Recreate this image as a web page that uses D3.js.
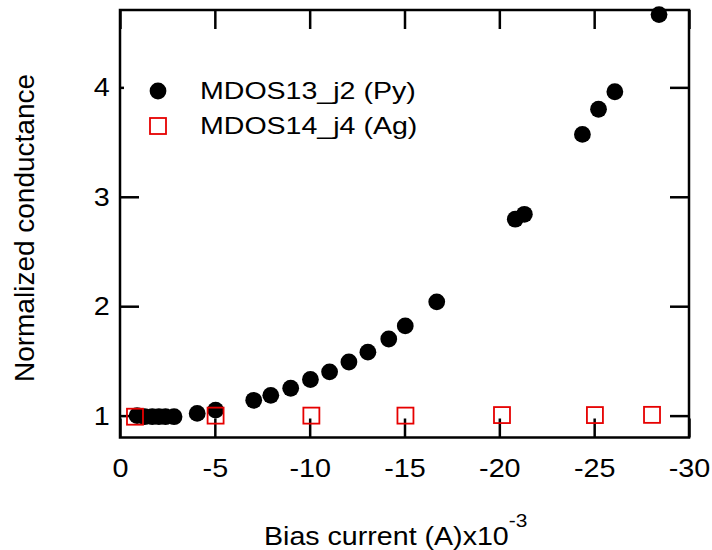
<!DOCTYPE html>
<html>
<head>
<meta charset="utf-8">
<script src="https://cdn.jsdelivr.net/npm/d3@7"></script>
<style>
  html, body { margin: 0; padding: 0; background: #fff; }
  svg { display: block; }
  text { font-family: "Liberation Sans", Arial, Helvetica, sans-serif; fill: #000; }
</style>
</head>
<body>
<svg id="chart" width="712" height="550"></svg>
<script>
// ---- Data ----
const pyX = [-0.9, -1.3, -1.7, -2.05, -2.4, -2.85, -4.07, -5.04, -7.05, -7.95, -9.0, -10.04,
             -11.05, -12.07, -13.07, -14.17, -15.04, -16.7, -20.84, -21.32, -24.38, -25.23, -26.09, -28.42];
const pyY = [1.0, 0.99, 0.99, 0.99, 0.99, 0.99, 1.02, 1.05, 1.14, 1.185, 1.25, 1.33,
             1.40, 1.49, 1.58, 1.70, 1.82, 2.04, 2.795, 2.84, 3.57, 3.80, 3.96, 4.665];
const agX = [-0.79, -5.04, -10.09, -15.05, -20.14, -25.04, -28.05];
const agY = [0.99, 1.0, 1.0, 1.0, 1.005, 1.005, 1.007];
const xTicks = [0, -5, -10, -15, -20, -25, -30];
const yTicks = [1, 2, 3, 4];
const seriesNames = ["MDOS13_j2 (Py)", "MDOS14_j4 (Ag)"];
const xTitle = "Bias current (A)x10";
const xTitleSup = "-3";
const yTitle = "Normalized conductance";

// ---- Layout ----
const L = 120, R = 689, T = 10, B = 437.5;
const TICK = 19;
const SX = 1.15;           // horizontal text stretch seen in the reference
const RED = "#e60000";

const svg = d3.select("#chart");
const x = d3.scaleLinear().domain([0, -30]).range([L, R]);
const y = d3.scaleLinear().domain([0.8, 4.707]).range([B, T]);

function styleAxis(g) {
  g.select(".domain").remove();
  g.selectAll(".tick line").attr("stroke", "#000").attr("stroke-width", 2.5);
}

// bottom axis with labels
const gx = svg.append("g").attr("transform", `translate(0,${B})`)
  .call(d3.axisBottom(x).tickValues(xTicks).tickSize(-TICK).tickPadding(22)
        .tickFormat(d => d === 0 ? "0" : "-" + Math.abs(d)));
styleAxis(gx);
gx.selectAll(".tick text").attr("font-size", 25).attr("font-family", null)
  .attr("transform", `scale(${SX},1)`);

// top axis no labels
const gt = svg.append("g").attr("transform", `translate(0,${T})`)
  .call(d3.axisTop(x).tickValues(xTicks).tickSize(-TICK).tickFormat(""));
styleAxis(gt);

// left axis with labels
const gy = svg.append("g").attr("transform", `translate(${L},0)`)
  .call(d3.axisLeft(y).tickValues(yTicks).tickSize(-TICK).tickPadding(9).tickFormat(d3.format("d")));
styleAxis(gy);
gy.selectAll(".tick text").attr("font-size", 25).attr("font-family", null)
  .attr("dy", "0.34em").attr("transform", `scale(${SX},1)`);

// right axis no labels
const gr = svg.append("g").attr("transform", `translate(${R},0)`)
  .call(d3.axisRight(y).tickValues(yTicks).tickSize(-TICK).tickFormat(""));
styleAxis(gr);

// frame
svg.append("rect").attr("x", L).attr("y", T).attr("width", R - L).attr("height", B - T)
  .attr("fill", "none").attr("stroke", "#000").attr("stroke-width", 2.5);

// legend background
svg.append("rect").attr("x", 124).attr("y", 62).attr("width", 300).attr("height", 84).attr("fill", "#fff");

// Py circles
svg.append("g").selectAll("circle").data(pyX).join("circle")
  .attr("cx", d => x(d)).attr("cy", (d, i) => y(pyY[i])).attr("r", 8.4).attr("fill", "#000");

// Ag squares
const S = 16;
svg.append("g").selectAll("rect").data(agX).join("rect")
  .attr("x", d => x(d) - S / 2).attr("y", (d, i) => y(agY[i]) - S / 2)
  .attr("width", S).attr("height", S).attr("fill", "none").attr("stroke", RED).attr("stroke-width", 1.8);

// legend
svg.append("circle").attr("cx", 158).attr("cy", 91).attr("r", 8.4).attr("fill", "#000");
svg.append("rect").attr("x", 158 - S / 2).attr("y", 126 - S / 2).attr("width", S).attr("height", S)
  .attr("fill", "none").attr("stroke", RED).attr("stroke-width", 1.8);
svg.append("text").attr("transform", `translate(200,98.5) scale(1.19,1)`).attr("font-size", 24).text(seriesNames[0]);
svg.append("text").attr("transform", `translate(200,134) scale(1.19,1)`).attr("font-size", 24).text(seriesNames[1]);

// x title
const xt = svg.append("text").attr("transform", `translate(264,545) scale(1.1,1)`).attr("font-size", 26);
xt.append("tspan").text(xTitle);
xt.append("tspan").attr("font-size", 19).attr("dy", -18).text(xTitleSup);

// y title
svg.append("text").attr("transform", `translate(34,228) rotate(-90)`)
  .attr("text-anchor", "middle").attr("font-size", 28).text(yTitle);
</script>
</body>
</html>
